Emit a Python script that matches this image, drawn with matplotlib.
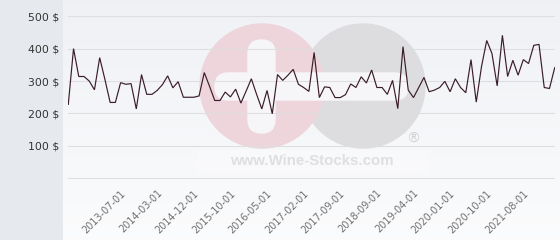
import matplotlib
matplotlib.use("Agg")
import matplotlib.pyplot as plt
from matplotlib.patches import Rectangle, Circle, FancyBboxPatch
import numpy as np

prices = [228, 400, 314, 314, 300, 273, 372, 305, 234, 234,
          295, 290, 292, 214, 320, 259, 259, 271, 289, 316,
          279, 298, 250, 250, 250, 254, 326, 284, 240, 240,
          266, 251, 275, 232, 269, 307, 259, 214, 271, 199,
          320, 302, 318, 336, 290, 280, 268, 388, 249, 282,
          280, 249, 249, 258, 291, 280, 313, 294, 334, 280,
          280, 259, 302, 215, 406, 272, 249, 280, 311, 267,
          272, 280, 299, 267, 307, 280, 264, 366, 235, 344,
          425, 385, 285, 441, 314, 364, 318, 366, 354, 410,
          413, 280, 277, 341]

tick_labels = ["2013-07-01", "2014-03-01", "2014-12-01", "2015-10-01",
               "2016-05-01", "2017-02-01", "2017-09-01", "2018-09-01",
               "2019-04-01", "2020-01-01", "2020-10-01", "2021-08-01"]
tick_positions = [11, 18, 25, 32, 39, 46, 53, 60, 67, 74, 81, 88]

y_ticks = [0, 100, 200, 300, 400, 500]
y_tick_labels = ["", "100 $", "200 $", "300 $", "400 $", "500 $"]

W, H = 560, 240
fig = plt.figure(figsize=(W / 100, H / 100), dpi=100)

# background layer (pixel coordinates)
bg = fig.add_axes([0, 0, 1, 1], zorder=0)
bg.set_xlim(0, W)
bg.set_ylim(H, 0)
bg.axis("off")
bg.add_patch(Rectangle((0, 0), 63, H, color="#e6eaee", zorder=0))
grad = np.linspace(0, 1, 256).reshape(-1, 1)
top = np.array([0.937, 0.945, 0.960])
bot = np.array([0.985, 0.987, 0.990])
img = top[None, None, :] * (1 - grad[:, :, None]) + bot[None, None, :] * grad[:, :, None]
bg.imshow(img, extent=[63, W, H, 0], aspect="auto", zorder=0.5)

# watermark
bg.add_patch(Circle((363, 86), 62, color="#dddddf", zorder=1))
bg.add_patch(Circle((262, 86), 62, color="#edd5db", zorder=1.1))
bg.add_patch(FancyBboxPatch((215, 73), 193, 27,
                            boxstyle="round,pad=0,rounding_size=13.5",
                            color="#f6f6f8", zorder=1.2))
bg.add_patch(FancyBboxPatch((248, 40), 27, 93,
                            boxstyle="round,pad=0,rounding_size=13.5",
                            color="#f6f6f8", zorder=1.2))
bg.add_patch(Rectangle((197, 150), 230, 23, color="white", alpha=0.25, zorder=1.2))
bg.text(312, 161, "www.Wine-Stocks.com", ha="center", va="center",
        fontsize=10.8, fontweight="bold", family="Liberation Sans",
        color="#dfdfdf", zorder=1.3)
bg.text(413, 139, "\u00ae", ha="center", va="center", fontsize=10,
        color="#d2d2d2", zorder=1.3)

# main chart
x0, x1 = 68.3, 554.7
yb, yt = 178.5, 16.0
ax = fig.add_axes([x0 / W, 1 - yb / H, (x1 - x0) / W, (yb - yt) / H], zorder=1)
ax.set_facecolor("none")
xs = np.arange(len(prices))
ax.plot(xs, prices, color="#3a1c2a", lw=0.85, solid_joinstyle="miter", zorder=3)
ax.set_xlim(0, len(prices) - 1)
ax.set_ylim(-0.5, 500.5)

ax.set_yticks(y_ticks)
ax.set_yticklabels(y_tick_labels)
ax.yaxis.grid(True, color="#dedede", lw=0.75)
ax.set_axisbelow(True)
ax.tick_params(axis="y", length=0, pad=6.8, labelsize=7.8, labelcolor="#333333")

ax.set_xticks(tick_positions)
ax.set_xticklabels(tick_labels, rotation=45, ha="right", va="baseline",
                   rotation_mode="anchor")
ax.tick_params(axis="x", length=0, pad=11, labelsize=7.0, labelcolor="#707070")

for s in ax.spines.values():
    s.set_visible(False)

fig.savefig("out.png", dpi=100)
